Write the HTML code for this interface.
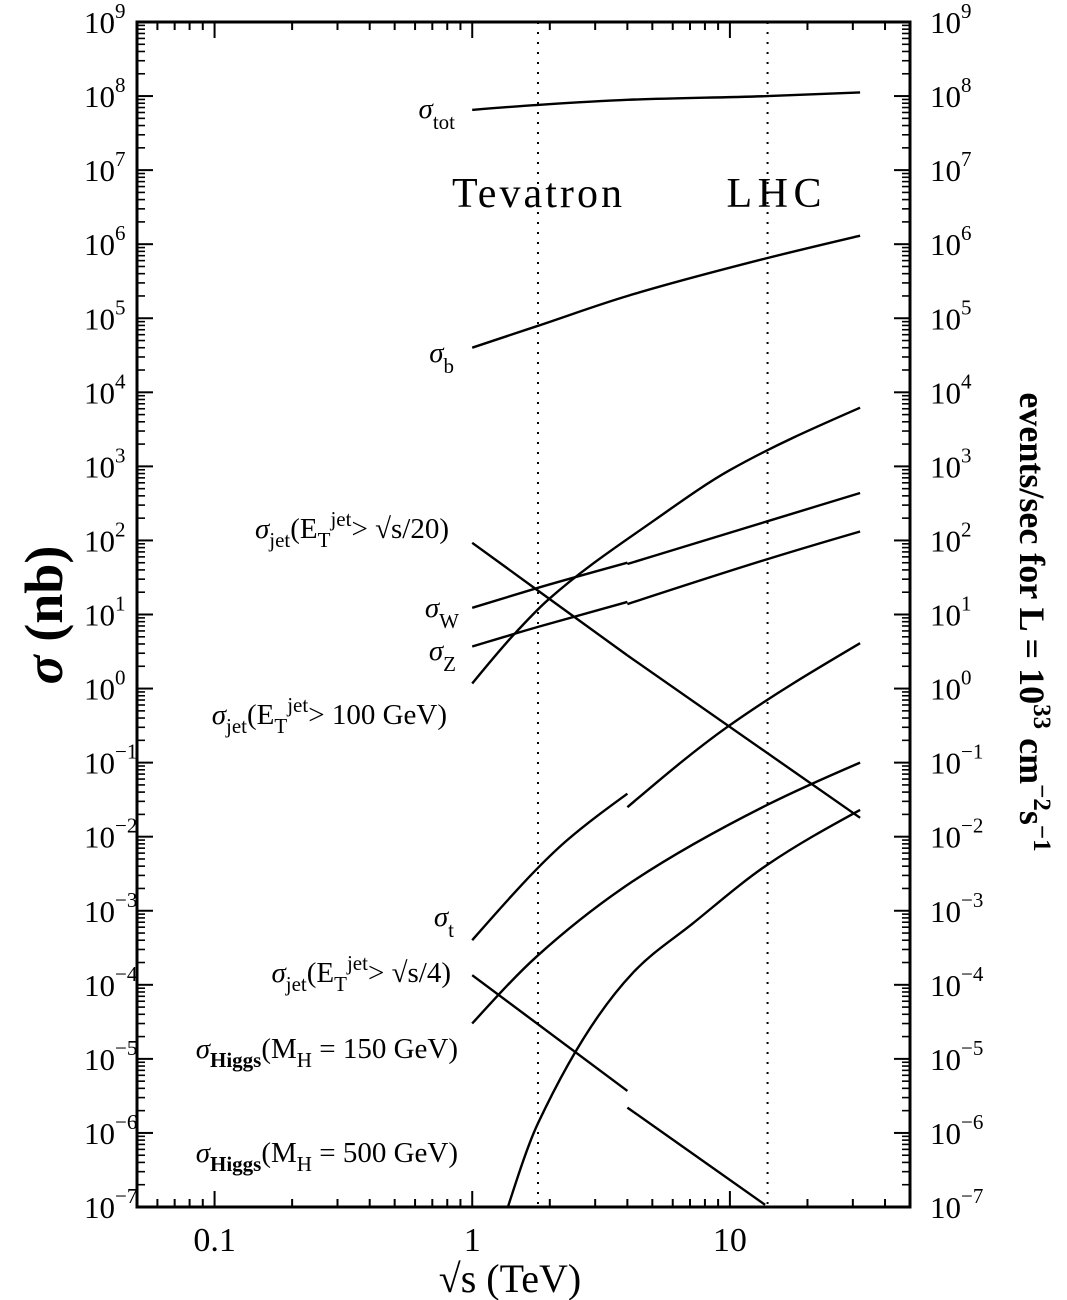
<!DOCTYPE html>
<html><head><meta charset="utf-8"><style>
html,body{margin:0;padding:0;background:#fff;}
svg{display:block;font-family:"Liberation Serif",serif;}
</style></head><body>
<svg id="chart" width="1067" height="1300" viewBox="0 0 1067 1300" xmlns="http://www.w3.org/2000/svg">
<g id="curves"></g>
<g id="axes"></g>
<g id="labels" font-size="29" text-anchor="end">
<text x="455" y="118"><tspan font-style="italic">σ</tspan><tspan font-size="21" dy="11">tot</tspan></text>
<text x="454" y="362"><tspan font-style="italic">σ</tspan><tspan font-size="21" dy="11">b</tspan></text>
<text x="449" y="538"><tspan font-style="italic">σ</tspan><tspan font-size="21" dy="9">jet</tspan><tspan dy="-9">(E</tspan><tspan font-size="21" dy="9">T</tspan><tspan font-size="21" dy="-21">jet</tspan><tspan dy="12">&gt; √s/20)</tspan></text>
<text x="459" y="617"><tspan font-style="italic">σ</tspan><tspan font-size="21" dy="11">W</tspan></text>
<text x="456" y="660"><tspan font-style="italic">σ</tspan><tspan font-size="21" dy="11">Z</tspan></text>
<text x="447" y="724"><tspan font-style="italic">σ</tspan><tspan font-size="21" dy="9">jet</tspan><tspan dy="-9">(E</tspan><tspan font-size="21" dy="9">T</tspan><tspan font-size="21" dy="-21">jet</tspan><tspan dy="12">&gt; 100 GeV)</tspan></text>
<text x="454" y="926"><tspan font-style="italic">σ</tspan><tspan font-size="21" dy="11">t</tspan></text>
<text x="451" y="982"><tspan font-style="italic">σ</tspan><tspan font-size="21" dy="9">jet</tspan><tspan dy="-9">(E</tspan><tspan font-size="21" dy="9">T</tspan><tspan font-size="21" dy="-21">jet</tspan><tspan dy="12">&gt; √s/4)</tspan></text>
<text x="458" y="1058"><tspan font-style="italic">σ</tspan><tspan font-size="21" dy="9" font-weight="bold">Higgs</tspan><tspan dy="-9">(M</tspan><tspan font-size="21" dy="9">H</tspan><tspan dy="-9"> = 150 GeV)</tspan></text>
<text x="458" y="1162"><tspan font-style="italic">σ</tspan><tspan font-size="21" dy="9" font-weight="bold">Higgs</tspan><tspan dy="-9">(M</tspan><tspan font-size="21" dy="9">H</tspan><tspan dy="-9"> = 500 GeV)</tspan></text>
</g>
<text x="537" y="207" font-size="42" text-anchor="middle" textLength="170">Tevatron</text>
<text x="774" y="207" font-size="42" text-anchor="middle" textLength="95">LHC</text>
<text x="510" y="1292" font-size="40" text-anchor="middle">√s (TeV)</text>
<text transform="translate(62,615) rotate(-90)" font-size="54" font-weight="bold" text-anchor="middle"><tspan font-style="italic">σ</tspan> (nb)</text>
<text transform="translate(1020,622) rotate(90)" font-size="36" font-weight="bold" text-anchor="middle">events/sec for L = 10<tspan font-size="25" dy="-14">33</tspan><tspan dy="14"> cm</tspan><tspan font-size="25" dy="-14">−2</tspan><tspan dy="14">s</tspan><tspan font-size="25" dy="-14">−1</tspan></text>
</svg>
<script>
// data (sqrt(s) in TeV, sigma in nb)
const sTot = [1, 1.8, 4, 14, 32];
const sigTot = [6.5e7, 7.6e7, 8.9e7, 1.0e8, 1.12e8];
const sB = [1, 1.8, 4, 14, 32];
const sigB = [4.0e4, 7.9e4, 2.0e5, 6.5e5, 1.3e6];
const sJet100 = [1, 1.44, 1.97, 5.12, 10, 32];
const sigJet100 = [1.17, 5.2, 15.8, 190, 890, 6200];
const sW1 = [1, 1.8, 4];
const sigW1 = [12.3, 22.9, 50];
const sW2 = [4, 14.6, 32];
const sigW2 = [48, 190, 437];
const sZ1 = [1, 1.8, 4];
const sigZ1 = [3.7, 6.8, 14.8];
const sZ2 = [4, 14, 32];
const sigZ2 = [13.8, 56, 132];
const sJ20a = [1, 1.8, 4];
const sigJ20a = [93, 21, 2.8];
const sJ20b = [4, 32];
const sigJ20b = [2.8, 0.018];
const sT1 = [1, 1.8, 2.33, 4];
const sigT1 = [4.0e-4, 3.8e-3, 8.9e-3, 3.8e-2];
const sT2 = [4, 9.73, 32];
const sigT2 = [2.5e-2, 0.30, 4.1];
const sH150 = [1, 1.8, 4.2, 14, 32];
const sigH150 = [3.0e-5, 2.5e-4, 2.5e-3, 2.7e-2, 0.1];
const sH500 = [1.376, 1.8, 4.2, 7.2, 14, 32];
const sigH500 = [1e-7, 1.35e-6, 1.45e-4, 6.8e-4, 4.2e-3, 2.3e-2];
const sJ4a = [1, 4];
const sigJ4a = [1.35e-4, 3.7e-6];
const sJ4b = [4, 13.7];
const sigJ4b = [2.2e-6, 1.07e-7];
const yExponents = [-7,-6,-5,-4,-3,-2,-1,0,1,2,3,4,5,6,7,8,9];
const xTickValues = [0.1, 1, 10];
const xTickLabels = ["0.1", "1", "10"];
const colliderEnergies = [1.8, 14];

const X0=137, X1=910, Y0=22, Y1=1207;
const xMin=Math.log10(0.05), xMax=Math.log10(50);
function xs(v){return X0+(Math.log10(v)-xMin)/(xMax-xMin)*(X1-X0);}
function ys(v){return Y0+(9-Math.log10(v))/16*(Y1-Y0);}
const NS="http://www.w3.org/2000/svg";
function mk(tag,attrs,parent){const e=document.createElementNS(NS,tag);for(const k in attrs)e.setAttribute(k,attrs[k]);parent.appendChild(e);return e;}
function pathFor(sx,sy){
  const p=sx.map((v,i)=>[xs(v),ys(sy[i])]);
  const n=p.length;
  let d="M"+p[0][0].toFixed(1)+","+p[0][1].toFixed(1);
  if(n===2){return d+" L"+p[1][0].toFixed(1)+","+p[1][1].toFixed(1);}
  const dx=[],m=[];
  for(let i=0;i<n-1;i++){dx.push(p[i+1][0]-p[i][0]);m.push((p[i+1][1]-p[i][1])/dx[i]);}
  const t=[m[0]];
  for(let i=1;i<n-1;i++){
    if(m[i-1]*m[i]<=0)t.push(0);
    else{const w1=2*dx[i]+dx[i-1],w2=dx[i]+2*dx[i-1];t.push((w1+w2)/(w1/m[i-1]+w2/m[i]));}
  }
  t.push(m[n-2]);
  t[0]=(3*m[0]-t[1])/2; t[n-1]=(3*m[n-2]-t[n-2])/2;
  for(let i=0;i<n-1;i++){
    const h=dx[i]/3;
    d+=" C"+(p[i][0]+h).toFixed(1)+","+(p[i][1]+t[i]*h).toFixed(1)+" "+(p[i+1][0]-h).toFixed(1)+","+(p[i+1][1]-t[i+1]*h).toFixed(1)+" "+p[i+1][0].toFixed(1)+","+p[i+1][1].toFixed(1);
  }
  return d;
}
const curves=document.getElementById('curves');
const series=[["curve-sigma-tot",sTot,sigTot],["curve-sigma-b",sB,sigB],["curve-sigma-jet-100",sJet100,sigJet100],
["curve-sigma-w-low",sW1,sigW1],["curve-sigma-w-high",sW2,sigW2],["curve-sigma-z-low",sZ1,sigZ1],["curve-sigma-z-high",sZ2,sigZ2],
["curve-sigma-jet-s20-low",sJ20a,sigJ20a],["curve-sigma-jet-s20-high",sJ20b,sigJ20b],["curve-sigma-t-low",sT1,sigT1],["curve-sigma-t-high",sT2,sigT2],
["curve-sigma-higgs-150",sH150,sigH150],["curve-sigma-higgs-500",sH500,sigH500],["curve-sigma-jet-s4-low",sJ4a,sigJ4a],["curve-sigma-jet-s4-high",sJ4b,sigJ4b]];
const clip=mk('clipPath',{id:'pc'},curves);mk('rect',{x:X0,y:Y0,width:X1-X0,height:Y1-Y0},clip);
for(const [name,sx,sy] of series){
  const el=mk('path',{d:pathFor(sx,sy),fill:'none',stroke:'#000','stroke-width':2.4,'clip-path':'url(#pc)'},curves);
  
  
}
for(const e of colliderEnergies){
  const el=mk('line',{x1:xs(e),x2:xs(e),y1:Y0,y2:Y1,stroke:'#000','stroke-width':2,'stroke-dasharray':'2 8'},curves);
  
  
}
const axes=document.getElementById('axes');
const frame=mk('rect',{x:X0,y:Y0,width:X1-X0,height:Y1-Y0,fill:'none',stroke:'#000','stroke-width':3},axes);


for(const ex of yExponents){
  const y=ys(Math.pow(10,ex));
  mk('line',{x1:X0,x2:X0+16,y1:y,y2:y,stroke:'#000','stroke-width':2},axes);
  mk('line',{x1:X1-16,x2:X1,y1:y,y2:y,stroke:'#000','stroke-width':2},axes);
  if(ex<9){for(let m=2;m<10;m++){const yy=ys(m*Math.pow(10,ex));
    mk('line',{x1:X0,x2:X0+8,y1:yy,y2:yy,stroke:'#000','stroke-width':1.6},axes);
    mk('line',{x1:X1-8,x2:X1,y1:yy,y2:yy,stroke:'#000','stroke-width':1.6},axes);}}
  for(const [xx,nm] of [[84,'y-tick-label-left'],[930,'y-tick-label-right']]){
    const t=mk('text',{x:xx,y:y+11,'font-size':31},axes);
    
    
    t.innerHTML='10<tspan font-size="21" dy="-15">'+(ex<0?'−'+(-ex):ex)+'</tspan>';
  }
}
for(let d=-2;d<=1;d++){for(let m=1;m<10;m++){const v=m*Math.pow(10,d);if(v<0.05||v>50)continue;
  const x=xs(v),L=m===1?16:8;
  mk('line',{x1:x,x2:x,y1:Y1,y2:Y1-L,stroke:'#000','stroke-width':2},axes);
  mk('line',{x1:x,x2:x,y1:Y0,y2:Y0+L,stroke:'#000','stroke-width':2},axes);}}
xTickValues.forEach((v,i)=>{
  const t=mk('text',{x:xs(v),y:1251,'font-size':34,'text-anchor':'middle'},axes);
  
  
  t.textContent=xTickLabels[i];
});
</script>
</body></html>
